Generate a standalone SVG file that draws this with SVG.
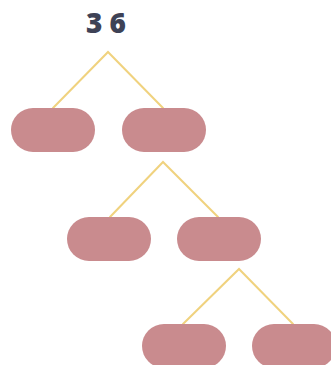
<svg xmlns="http://www.w3.org/2000/svg" width="331" height="365" viewBox="0 0 331 365">
<style>
.n{fill:#c98b8e}
.e{stroke:#f0d27e;stroke-width:2;fill:none;stroke-linecap:round}
.t{font-family:"Open Sans","DejaVu Sans",sans-serif;font-weight:800;font-size:28px;fill:#3e4256;letter-spacing:7px}
</style>
<rect width="331" height="365" fill="#ffffff"/>
<g id="root"><text class="t" x="86" y="33">36</text></g>
<g id="connectors">
<polyline class="e" points="53,108 108,52 163,108"/>
<polyline class="e" points="110,217 163,162 218,217"/>
<polyline class="e" points="183,324 239,269 293,324"/>
</g>
<g id="n1"><rect class="n" x="11" y="108" width="84" height="44" rx="22"/></g>
<g id="n2"><rect class="n" x="122" y="108" width="84" height="44" rx="22"/></g>
<g id="n3"><rect class="n" x="67" y="217" width="84" height="44" rx="22"/></g>
<g id="n4"><rect class="n" x="177" y="217" width="84" height="44" rx="22"/></g>
<g id="n5"><rect class="n" x="142" y="324" width="84" height="44" rx="22"/></g>
<g id="n6"><rect class="n" x="252" y="324" width="84" height="44" rx="22"/></g>
</svg>
